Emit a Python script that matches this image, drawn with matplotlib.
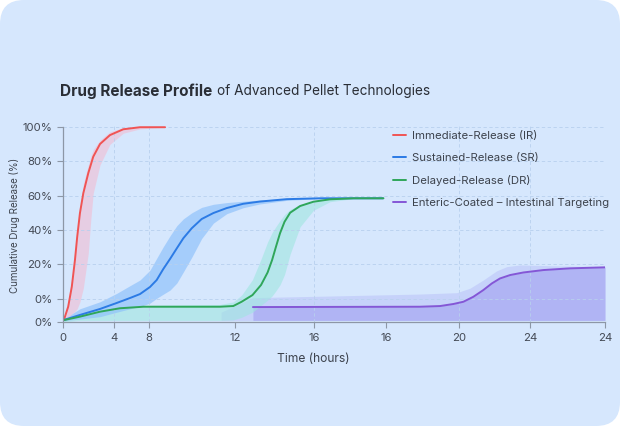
import matplotlib.pyplot as plt
import matplotlib.patches as mpatches
import numpy as np

plt.rcParams['font.family'] = ['Inter', 'DejaVu Sans']

# tick positions (hours on a uniform axis) and their printed labels
x_ticks = [0, 2.26, 3.81, 7.62, 11.12, 14.3, 17.54, 20.68, 24]
x_labels = ["0", "4", "8", "12", "16", "16", "20", "24", "24"]
y_ticks = [-14, 0, 20, 40, 60, 80, 100]
y_labels = ["0%", "0%", "20%", "40%", "60%", "80%", "100%"]
x_grid = [2.26, 3.81, 11.12, 17.54, 20.68]

# Immediate-Release
ir_t = [0.04, 0.23, 0.39, 0.53, 0.63, 0.75, 0.90, 1.12, 1.23, 1.34, 1.64, 2.08, 2.67, 3.41, 4.52]
ir_v = [-12.5, -4.8, 6.9, 22.5, 36.1, 49.8, 61.5, 73.2, 78.0, 82.8, 90.2, 95.4, 98.8, 100, 100]
ir_hi = [-11.5, -1, 10, 26, 38, 52, 67, 78, 83, 87, 92.5, 97.4, 99.7, 100, 100]
ir_lo = [-13, -11, -9, -7.5, -6, -2, 6, 26.4, 45.8, 61.5, 78, 90, 96.5, 99, 100]

# Sustained-Release
sr_t = [0.02, 0.75, 1.64, 2.38, 2.97, 3.41, 3.85, 4.15, 4.44, 4.74, 5.04, 5.33, 5.70, 6.14, 6.66, 7.25,
        7.98, 8.72, 9.91, 11.38, 14.17]
sr_v = [-12.6, -9.6, -6.1, -2.6, 0.3, 2.6, 6.7, 10.8, 17.2, 23.1, 29.3, 35.2, 41.0, 46.4, 49.9, 52.8,
        55.3, 56.6, 58.0, 58.5, 58.5]
sr_hi = [-12, -6, -1.9, 3, 7.5, 10.8, 16.5, 23.5, 30.2, 36.6, 42.5, 46.5, 50, 53.2, 55, 56,
         56.8, 57.5, 58.3, 58.5, 58.5]
sr_lo = [-13, -12, -10.6, -8, -6, -4.7, -2.7, 0.1, 2.5, 4.9, 9, 15.5, 24, 35, 44, 49.5,
         53, 55.2, 57.3, 58.3, 58.5]

# Delayed-Release
dr_t = [0.04, 0.75, 1.64, 2.52, 3.56, 4.74, 6.95, 7.54, 7.91, 8.39, 8.77, 9.06, 9.26, 9.43, 9.61, 9.81,
        10.06, 10.50, 11.09, 11.82, 12.86, 14.19]
dr_v = [-12.6, -10.6, -7.7, -5.7, -4.8, -4.8, -4.8, -4.4, -1.9, 2.0, 7.9, 15.2, 22.5, 30.2, 38.1, 44.8,
        50.1, 54.0, 56.5, 57.9, 58.5, 58.5]
dr_hi = [-12, -9.5, -6.8, -4.8, -4, -3.8, -3.5, -2, 2, 11, 23, 33, 38.5, 42, 45.5, 49,
         52, 54.8, 56.8, 58, 58.5, 58.5]
dr_lo = [-13.5, -12.8, -12.8, -12.8, -12.8, -12.8, -12.8, -12.5, -11, -8, -4, -1, 1.5, 4.5, 8, 14,
         26, 41.9, 51.5, 56.5, 58.3, 58.5]

# Enteric-Coated
ec_t = [8.41, 12.0, 15.81, 16.70, 17.29, 17.73, 18.17, 18.61, 18.99, 19.35, 19.80, 20.39, 21.27, 22.45, 24.0]
ec_v = [-5.0, -4.9, -4.8, -4.4, -3.2, -1.9, 1.0, 4.9, 8.8, 11.7, 13.7, 15.2, 16.6, 17.6, 18.2]
ec_band_t = [7.0, 8.4, 12.0, 15.8, 17.44, 18.02, 18.61, 19.21, 19.65, 20.24, 22.0, 24.0]
ec_band_hi = [-8, 0.5, 1.5, 2.6, 3.4, 6.0, 10.8, 16.2, 18.6, 19.6, 19.0, 18.6]
ec_floor = -12.8

fig = plt.figure(figsize=(6.2, 4.26), dpi=100, facecolor='white')
card = mpatches.FancyBboxPatch((0, 0), 6.2, 4.26, boxstyle="round,pad=0,rounding_size=0.24",
                               transform=fig.dpi_scale_trans, facecolor='#d6e7fd', edgecolor='none', zorder=-10)
fig.patches.append(card)

ax = fig.add_axes([0.1016, 0.243, 0.8742, 0.4624])
ax.set_facecolor('none')

# bands
ax.fill_between(ec_band_t, ec_floor, ec_band_hi, color='#a9acf6', alpha=0.35, lw=0)
ax.fill_between(ec_t, ec_floor, ec_v, color='#9c98f0', alpha=0.5, lw=0)
ax.fill_between(dr_t, dr_lo, dr_hi, color='#9fe6e0', alpha=0.6, lw=0)
ax.fill_between(sr_t, sr_lo, sr_hi, color='#8cc0fb', alpha=0.65, lw=0)
ax.fill_between(ir_t, ir_lo, ir_hi, color='#f2bdd2', alpha=0.6, lw=0)

line_kw = dict(lw=1.4, solid_joinstyle='round', solid_capstyle='round')
ax.plot(ir_t, ir_v, color='#f05454', label='Immediate-Release (IR)', **line_kw)
ax.plot(sr_t, sr_v, color='#2c7be5', label='Sustained-Release (SR)', **line_kw)
ax.plot(dr_t, dr_v, color='#2fa65a', label='Delayed-Release (DR)', **line_kw)
ax.plot(ec_t, ec_v, color='#8457d6', label='Enteric-Coated – Intestinal Targeting', **line_kw)

for y in y_ticks[1:]:
    ax.axhline(y, color='#b8d0ee', lw=0.6, ls=(0, (4, 3)), zorder=1.5)
for x in x_grid:
    ax.axvline(x, color='#b8d0ee', lw=0.6, ls=(0, (4, 3)), zorder=1.5)

ax.set_xlim(0, 24)
ax.set_ylim(-14, 101)
ax.set_xticks(x_ticks, x_labels)
ax.set_yticks(y_ticks, y_labels)
for s in ['top', 'right']:
    ax.spines[s].set_visible(False)
for s in ['left', 'bottom']:
    ax.spines[s].set_color('#8d97a6')
    ax.spines[s].set_linewidth(0.9)
ax.spines['left'].set_bounds(-14, 100)
ax.tick_params(axis='both', colors='#8d97a6', labelcolor='#444a55', labelsize=8.2, length=4, width=0.8)

ax.set_xlabel('Time (hours)', fontsize=8.7, color='#3d434d')
ax.xaxis.set_label_coords(0.461, -0.155)
ax.set_ylabel('Cumulative Drug Release (%)', fontsize=7, color='#3d434d')
ax.yaxis.set_label_coords(-0.079, 0.495)

leg = ax.legend(loc='upper left', bbox_to_anchor=(388 / 620, 1 - 126 / 426), bbox_transform=fig.transFigure,
                frameon=False, fontsize=8.2, handlelength=1.2, handletextpad=0.55, labelspacing=1.08,
                borderaxespad=0)
for t in leg.get_texts():
    t.set_color('#3d434d')

t1 = fig.text(60 / 620, 1 - 91 / 426, 'Drug Release Profile', fontsize=11, fontweight='bold',
              color='#2a2e36', va='center')
fig.canvas.draw()
bb = t1.get_window_extent()
fig.text(bb.x1 / fig.bbox.width + 0.007, 1 - 91 / 426, 'of Advanced Pellet Technologies', fontsize=9.8,
         color='#2a2e36', va='center')

fig.savefig('out.png', dpi=100, facecolor='white')
